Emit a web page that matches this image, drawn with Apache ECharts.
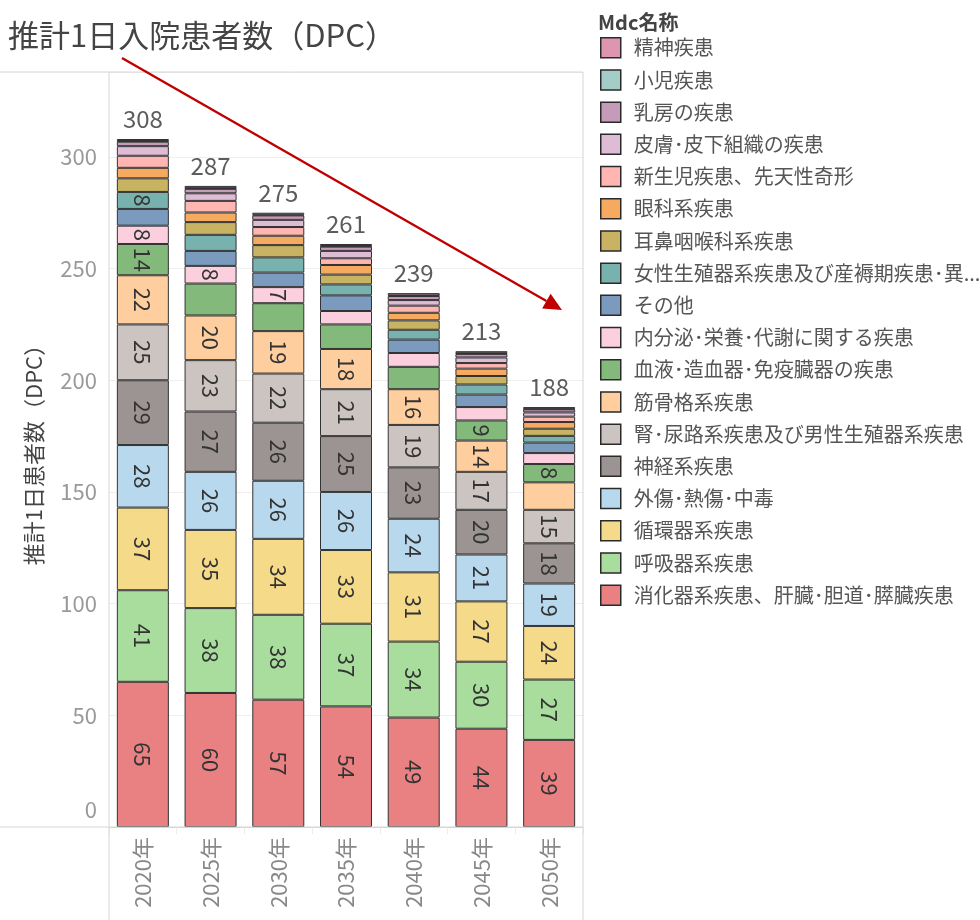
<!DOCTYPE html>
<html>
<head>
<meta charset="utf-8">
<script src="https://cdn.jsdelivr.net/npm/echarts@6/dist/echarts.min.js"></script>
<style>html,body{margin:0;padding:0;background:#fff}#c{width:980px;height:920px}</style>
</head>
<body>
<div id="c"></div>
<script>
// ---- data ----
const years = ['2020年', '2025年', '2030年', '2035年', '2040年', '2045年', '2050年'];
const yTicks = [0, 50, 100, 150, 200, 250, 300];

// stack order: bottom -> top
const digestive   = [65, 60, 57, 54, 49, 44, 39];          // 消化器系疾患、肝臓・胆道・膵臓疾患
const respiratory = [41, 38, 38, 37, 34, 30, 27];          // 呼吸器系疾患
const circulatory = [37, 35, 34, 33, 31, 27, 24];          // 循環器系疾患
const injury      = [28, 26, 26, 26, 24, 21, 19];          // 外傷・熱傷・中毒
const nervous     = [29, 27, 26, 25, 23, 20, 18];          // 神経系疾患
const kidney      = [25, 23, 22, 21, 19, 17, 15];          // 腎・尿路系疾患及び男性生殖器系疾患
const musculo     = [22, 20, 19, 18, 16, 14, 12.3];        // 筋骨格系疾患
const blood       = [14, 14.3, 12.5, 11.0, 10.0, 9, 8.2];  // 血液・造血器・免疫臓器の疾患
const endocrine   = [8.2, 7.9, 7.2, 6.0, 6.2, 6.0, 4.9];   // 内分泌・栄養・代謝に関する疾患
const other       = [7.5, 6.7, 6.5, 7.0, 6.0, 5.6, 4.7];   // その他
const female      = [7.6, 7.2, 6.8, 4.9, 4.4, 4.5, 3.0];   // 女性生殖器系疾患及び産褥期疾患・異常妊娠分娩
const ent         = [6.1, 5.7, 5.5, 4.4, 4.2, 3.8, 3.2];   // 耳鼻咽喉科系疾患
const eye         = [4.7, 4.3, 4.2, 4.3, 3.4, 3.3, 3.0];   // 眼科系疾患
const newborn     = [5.4, 5.2, 3.9, 3.0, 3.2, 2.5, 2.4];   // 新生児疾患、先天性奇形
const skin        = [4.3, 3.4, 3.2, 3.3, 2.5, 2.5, 1.9];   // 皮膚・皮下組織の疾患
const breast      = [2.0, 2.0, 2.0, 1.9, 1.8, 1.6, 1.4];   // 乳房の疾患
const pediatric   = [0.3, 0.3, 0.3, 0.3, 0.3, 0.3, 0.2];   // 小児疾患
const mental      = [0.9, 1.0, 0.9, 0.9, 1.0, 0.9, 0.8];   // 精神疾患

// which segment labels are printed in the reference (1 = shown)
const labelsShown = {
  digestive:   [1,1,1,1,1,1,1],
  respiratory: [1,1,1,1,1,1,1],
  circulatory: [1,1,1,1,1,1,1],
  injury:      [1,1,1,1,1,1,1],
  nervous:     [1,1,1,1,1,1,1],
  kidney:      [1,1,1,1,1,1,1],
  musculo:     [1,1,1,1,1,1,0],
  blood:       [1,0,0,0,0,1,1],
  endocrine:   [1,1,1,0,0,0,0],
  female:      [1,0,0,0,0,0,0]
};

const seriesDefs = [
  { key: 'digestive',   name: '消化器系疾患、肝臓･胆道･膵臓疾患', data: digestive },
  { key: 'respiratory', name: '呼吸器系疾患', data: respiratory },
  { key: 'circulatory', name: '循環器系疾患', data: circulatory },
  { key: 'injury',      name: '外傷･熱傷･中毒', data: injury },
  { key: 'nervous',     name: '神経系疾患', data: nervous },
  { key: 'kidney',      name: '腎･尿路系疾患及び男性生殖器系疾患', data: kidney },
  { key: 'musculo',     name: '筋骨格系疾患', data: musculo },
  { key: 'blood',       name: '血液･造血器･免疫臓器の疾患', data: blood },
  { key: 'endocrine',   name: '内分泌･栄養･代謝に関する疾患', data: endocrine },
  { key: 'other',       name: 'その他', data: other },
  { key: 'female',      name: '女性生殖器系疾患及び産褥期疾患･異常妊娠分娩', data: female },
  { key: 'ent',         name: '耳鼻咽喉科系疾患', data: ent },
  { key: 'eye',         name: '眼科系疾患', data: eye },
  { key: 'newborn',     name: '新生児疾患、先天性奇形', data: newborn },
  { key: 'skin',        name: '皮膚･皮下組織の疾患', data: skin },
  { key: 'breast',      name: '乳房の疾患', data: breast },
  { key: 'pediatric',   name: '小児疾患', data: pediatric },
  { key: 'mental',      name: '精神疾患', data: mental }
];

// ---- styles ----
const baseColors = {
  digestive: '#e15759', respiratory: '#8cd17d', circulatory: '#f1ce63', injury: '#a0cbe8',
  nervous: '#79706e', kidney: '#bab0ac', musculo: '#ffbe7d', blood: '#59a14f',
  endocrine: '#fabfd2', other: '#4e79a7', female: '#499894', ent: '#b6992d',
  eye: '#f28e2b', newborn: '#ff9d9a', skin: '#d4a6c8', breast: '#b07aa1',
  pediatric: '#86bcb6', mental: '#d37295'
};
function tint(hex, a) {
  const n = parseInt(hex.slice(1), 16);
  const r = (n >> 16) & 255, g = (n >> 8) & 255, b = n & 255;
  const m = c => Math.round(c * a + 255 * (1 - a));
  return 'rgb(' + m(r) + ',' + m(g) + ',' + m(b) + ')';
}
const FONT = '"Noto Sans CJK JP", "Noto Sans", sans-serif';

const totals = years.map((_, i) => seriesDefs.reduce((s, d) => s + d.data[i], 0));

const barSeries = seriesDefs.map(d => ({
  name: d.name,
  type: 'bar',
  stack: 'total',
  barWidth: 52,
  itemStyle: { color: tint(baseColors[d.key], 0.75), borderColor: '#333', borderWidth: 1 },
  label: {
    show: false, position: 'inside', rotate: -90, fontSize: 22, color: '#333', fontFamily: FONT,
    formatter: p => String(Math.round(p.value))
  },
  data: d.data.map((v, i) => ({
    value: v,
    label: { show: !!(labelsShown[d.key] && labelsShown[d.key][i]) }
  }))
}));

const totalSeries = {
  name: 'total',
  type: 'scatter',
  symbolSize: 0,
  z: 10,
  label: {
    show: true, position: 'top', distance: 8, fontSize: 24, color: '#333', fontFamily: FONT,
    formatter: p => String(Math.round(p.value))
  },
  data: totals
};

const legendOrder = seriesDefs.map(d => d.name).reverse();

const chart = echarts.init(document.getElementById('c'), null, { renderer: 'canvas' });

const GRID = { left: 109, right: 397, top: 72, bottom: 93 };
const arrowStart = [122, 58];
const arrowEnd = [562, 310];
function arrowHead(s, e, len, half) {
  const dx = e[0] - s[0], dy = e[1] - s[1];
  const L = Math.hypot(dx, dy), ux = dx / L, uy = dy / L;
  const bx = e[0] - ux * len, by = e[1] - uy * len;
  return [[e[0], e[1]], [bx - uy * half, by + ux * half], [bx + uy * half, by - ux * half]];
}
const head = arrowHead(arrowStart, arrowEnd, 18, 8.5);
const frameColor = '#d6d6d6';

chart.setOption({
  animation: false,
  textStyle: { fontFamily: FONT },
  title: [
    { text: '推計1日入院患者数（DPC）', left: 3, top: 15,
      textStyle: { fontSize: 31, fontWeight: 'normal', color: '#444', fontFamily: FONT } },
    { text: 'Mdc名称', left: 593, top: 7,
      textStyle: { fontSize: 20, fontWeight: 'bold', color: '#444', fontFamily: FONT } }
  ],
  legend: {
    orient: 'vertical', left: 595, top: 32,
    itemWidth: 20, itemHeight: 20, itemGap: 10.7,
    icon: 'rect', selectedMode: false,
    data: legendOrder,
    itemStyle: { borderColor: '#2a2a2a', borderWidth: 1.5 },
    textStyle: { fontSize: 20, color: '#555', fontFamily: FONT, width: 348, overflow: 'truncate', ellipsis: '...', padding: [0, 0, 0, 8] }
  },
  grid: GRID,
  xAxis: {
    type: 'category', data: years,
    axisLine: { show: true, lineStyle: { color: frameColor } },
    axisTick: { show: true, length: 7, lineStyle: { color: '#ececec' } },
    axisLabel: { rotate: 90, fontSize: 22, color: '#888', margin: 10, fontFamily: FONT }
  },
  yAxis: {
    type: 'value', min: 0, max: 338, interval: 50,
    name: '推計1日患者数（DPC）', nameLocation: 'middle', nameGap: 64, nameRotate: 90,
    nameTextStyle: { fontSize: 22, color: '#444', fontFamily: FONT },
    axisLine: { show: false }, axisTick: { show: false },
    axisLabel: {
      fontSize: 22, color: '#999', margin: 12, showMaxLabel: false, fontFamily: FONT,
      formatter: v => (yTicks.indexOf(v) === 0 ? '{z|' + v + '}' : String(v)),
      rich: { z: { fontSize: 22, color: '#999', padding: [0, 0, 34, 0] } }
    },
    splitLine: { lineStyle: { color: '#efefef' } }
  },
  graphic: [
    { type: 'line', shape: { x1: 0, y1: 72, x2: 583, y2: 72 }, style: { stroke: frameColor, lineWidth: 1 }, z: 50 },
    { type: 'line', shape: { x1: 0, y1: 827, x2: 583, y2: 827 }, style: { stroke: frameColor, lineWidth: 1 }, z: 50 },
    { type: 'line', shape: { x1: 109, y1: 72, x2: 109, y2: 920 }, style: { stroke: frameColor, lineWidth: 1 }, z: 50 },
    { type: 'line', shape: { x1: 583, y1: 72, x2: 583, y2: 920 }, style: { stroke: frameColor, lineWidth: 1 }, z: 50 },
    { type: 'line', shape: { x1: arrowStart[0], y1: arrowStart[1], x2: (head[1][0] + head[2][0]) / 2, y2: (head[1][1] + head[2][1]) / 2 },
      style: { stroke: '#c00000', lineWidth: 2.4 }, z: 60 },
    { type: 'polygon', shape: { points: head }, style: { fill: '#c00000' }, z: 60 }
  ],
  series: barSeries.concat([totalSeries])
});
</script>
</body>
</html>
